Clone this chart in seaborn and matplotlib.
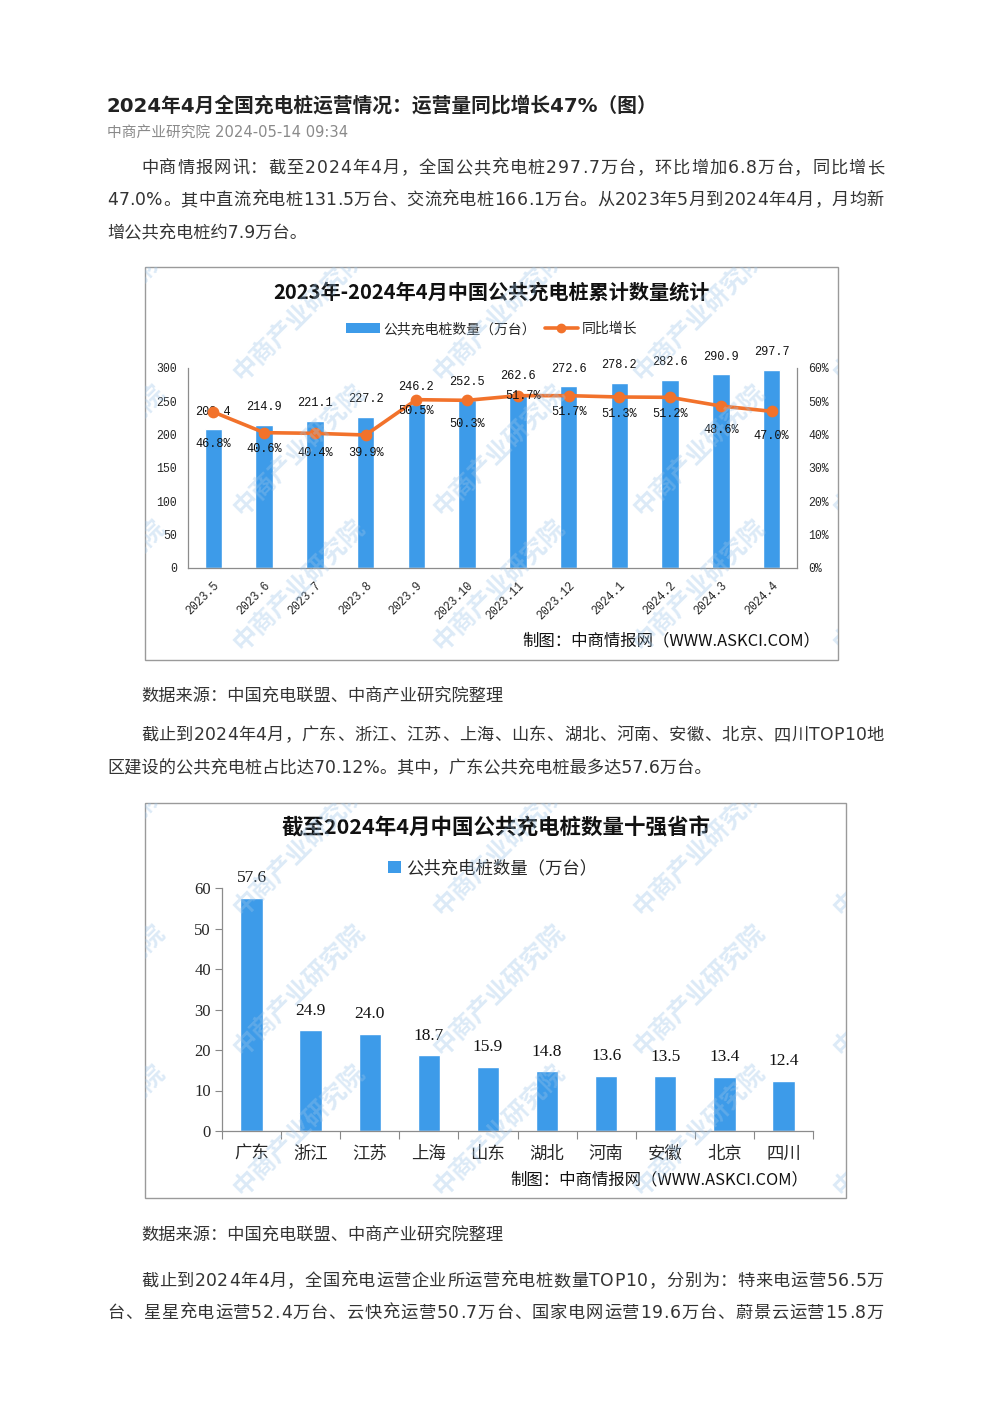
import matplotlib
matplotlib.use('Agg')
import matplotlib.pyplot as plt
import seaborn as sns
import numpy as np
from matplotlib.patches import Rectangle, Patch
from matplotlib.lines import Line2D
from matplotlib.transforms import Bbox, TransformedBbox

# ---------------- data ----------------
months = ['2023.5', '2023.6', '2023.7', '2023.8', '2023.9', '2023.10', '2023.11',
          '2023.12', '2024.1', '2024.2', '2024.3', '2024.4']
pile_count = [208.4, 214.9, 221.1, 227.2, 246.2, 252.5, 262.6, 272.6, 278.2, 282.6, 290.9, 297.7]
yoy_growth = [46.8, 40.6, 40.4, 39.9, 50.5, 50.3, 51.7, 51.7, 51.3, 51.2, 48.6, 47.0]

provinces = ['广东', '浙江', '江苏', '上海', '山东', '湖北', '河南', '安徽', '北京', '四川']
province_count = [57.6, 24.9, 24.0, 18.7, 15.9, 14.8, 13.6, 13.5, 13.4, 12.4]

# label offsets (style only, in pixels below the point)
pct_label_drop = [32, 16, 20, 18, 11, 24, 0, 16, 17, 17, 24, 25]

article_title = '2024年4月全国充电桩运营情况：运营量同比增长47%（图）'
article_meta = '中商产业研究院 2024-05-14 09:34'
para1 = ['中商情报网讯：截至2024年4月，全国公共充电桩297.7万台，环比增加6.8万台，同比增长',
         '47.0%。其中直流充电桩131.5万台、交流充电桩166.1万台。从2023年5月到2024年4月，月均新',
         '增公共充电桩约7.9万台。']
source_note = '数据来源：中国充电联盟、中商产业研究院整理'
para2 = ['截止到2024年4月，广东、浙江、江苏、上海、山东、湖北、河南、安徽、北京、四川TOP10地',
         '区建设的公共充电桩占比达70.12%。其中，广东公共充电桩最多达57.6万台。']
para3 = ['截止到2024年4月，全国充电运营企业所运营充电桩数量TOP10，分别为：特来电运营56.5万',
         '台、星星充电运营52.4万台、云快充运营50.7万台、国家电网运营19.6万台、蔚景云运营15.8万']
chart1_title = '2023年-2024年4月中国公共充电桩累计数量统计'
chart2_title = '截至2024年4月中国公共充电桩数量十强省市'
bar_legend = '公共充电桩数量（万台）'
line_legend = '同比增长'
credit = '制图：中商情报网（WWW.ASKCI.COM）'
watermark = '中商产业研究院'

# ---------------- style ----------------
sns.set_theme(style='white')
plt.rcParams['font.family'] = ['Noto Sans CJK SC', 'DejaVu Sans']
plt.rcParams['axes.unicode_minus'] = False

BLUE = '#3d9be9'
ORANGE = '#f2722b'
TXT = '#333333'
MONO = ['Liberation Mono', 'DejaVu Sans Mono']
SERIF = ['Liberation Serif', 'Noto Sans CJK SC']
PAGE = ['DejaVu Sans', 'Noto Sans CJK SC']

W, H = 992, 1403
fig = plt.figure(figsize=(W / 100, H / 100), dpi=100)
fig.patch.set_facecolor('white')


def fx(x):
    return x / W


def fy(y):
    return 1 - y / H


def txt(x, y, s, **kw):
    kw.setdefault('va', 'center')
    kw.setdefault('color', TXT)
    return fig.text(fx(x), fy(y), s, **kw)


def justify(x0, x1, y, s, size, **kw):
    """draw a line of text spread evenly between x0 and x1"""
    r = fig.canvas.get_renderer()
    widths = []
    for ch in s:
        t = fig.text(0, 0, ch, fontsize=size, **kw)
        bb = t.get_window_extent(renderer=r)
        widths.append(bb.width)
        t.remove()
    total = sum(widths)
    extra = (x1 - x0 - total) / max(len(s) - 1, 1)
    if extra < 0:
        extra = 0
    x = x0
    for ch, w in zip(s, widths):
        txt(x, y, ch, fontsize=size, ha='left', **kw)
        x += w + extra


# ---------------- article text ----------------
txt(107, 105, article_title, fontsize=14.2, fontweight='bold', ha='left', color='#222222',
    fontfamily=PAGE)
txt(107, 133, article_meta, fontsize=10.6, ha='left', color='#8a8a8a', fontfamily=PAGE)
BODY = 12.4
justify(141, 884, 168, para1[0], BODY, fontfamily=PAGE)
justify(107, 884, 200, para1[1], BODY, fontfamily=PAGE)
txt(107, 233, para1[2], fontsize=BODY, ha='left', fontfamily=PAGE)
txt(141, 697, source_note, fontsize=BODY, ha='left', fontfamily=PAGE)
justify(141, 884, 735, para2[0], BODY, fontfamily=PAGE)
txt(107, 768, para2[1], fontsize=BODY, ha='left', fontfamily=PAGE)
txt(141, 1236, source_note, fontsize=BODY, ha='left', fontfamily=PAGE)
justify(141, 884, 1281, para3[0], BODY, fontfamily=PAGE)
justify(107, 884, 1313, para3[1], BODY, fontfamily=PAGE)

# ---------------- chart frames ----------------
box1 = (145, 267, 838, 660)
box2 = (145, 803, 846, 1198)
for (l, t, r, b) in (box1, box2):
    fig.add_artist(Rectangle((fx(l), fy(b)), (r - l) / W, (b - t) / H,
                             transform=fig.transFigure, fill=False,
                             edgecolor='#9a9a9a', lw=1.0))


def add_watermarks(box, xs, ys):
    l, t, r, b = box
    clip = TransformedBbox(Bbox.from_extents(fx(l), fy(b), fx(r), fy(t)), fig.transFigure)
    for yc in ys:
        for xc in xs:
            tt = fig.text(fx(xc), fy(yc), watermark, fontsize=18, rotation=45,
                          ha='center', va='center', color='#9cc4e8', alpha=0.35,
                          fontweight='bold', zorder=10)
            tt.set_clip_box(clip)
            tt.set_clip_on(True)


add_watermarks(box1, [100, 300, 500, 700, 900], [315, 450, 585])
add_watermarks(box2, [100, 300, 500, 700, 900], [850, 990, 1130])

# ---------------- chart 1 ----------------
txt(491, 292, chart1_title, fontsize=14.5, fontweight='bold', ha='center', color='#111111')

ax1 = fig.add_axes([fx(188), fy(568), (797 - 188) / W, 200 / H])
sns.barplot(x=months, y=pile_count, color=BLUE, saturation=1, width=0.34, ax=ax1, zorder=2)
ax1.set_ylim(0, 300)
ax1.set_xlim(-0.5, len(months) - 0.5)
ax1.set_yticks(np.arange(0, 301, 50))
ax1.set_yticklabels([str(v) for v in range(0, 301, 50)], fontfamily=MONO, fontsize=8.3)
ax1.set_xticks(range(len(months)))
ax1.set_xticklabels(months, rotation=45, ha='right', va='top', rotation_mode='anchor',
                    fontfamily=MONO, fontsize=8.3)
ax1.set_xticks(np.arange(-0.5, len(months), 1), minor=True)
ax1.tick_params(axis='x', which='major', length=0, pad=8)
ax1.tick_params(axis='x', which='minor', length=4, direction='in', color='#888888', width=0.8)
ax1.tick_params(axis='y', length=0, pad=8)
ax1.set_xlabel('')
ax1.set_ylabel('')
ax1.patch.set_alpha(0)
for s in ('left', 'right', 'bottom'):
    ax1.spines[s].set_color('#8c8c8c')
    ax1.spines[s].set_linewidth(0.9)
ax1.spines['top'].set_visible(False)
ax1.grid(False)

for i, v in enumerate(pile_count):
    ax1.annotate(f'{v}', (i, v), xytext=(0, 12.5), textcoords='offset points',
                 ha='center', va='center', fontsize=8.6, fontfamily=MONO, color='#111111')

ax2 = ax1.twinx()
sns.pointplot(x=months, y=yoy_growth, color=ORANGE, markers='o', errorbar=None,
              ax=ax2, markersize=6.5, linewidth=2.6)
ax2.set_ylim(0, 60)
ax2.set_xlim(-0.5, len(months) - 0.5)
ax2.set_yticks(np.arange(0, 61, 10))
ax2.set_yticklabels([f'{v}%' for v in range(0, 61, 10)], fontfamily=MONO, fontsize=8.3)
ax2.tick_params(axis='y', length=0, pad=8)
ax2.set_ylabel('')
ax2.set_xlabel('')
for s in ('left', 'right', 'bottom', 'top'):
    ax2.spines[s].set_visible(False)
ax2.grid(False)
for i, v in enumerate(yoy_growth):
    dx = 4 if pct_label_drop[i] == 0 else 0
    ax2.annotate(f'{v}%', (i, v), xytext=(dx, -pct_label_drop[i] * 0.72),
                 textcoords='offset points', ha='center', va='center',
                 fontsize=8.6, fontfamily=MONO, color='#111111')

h_bar = Patch(facecolor=BLUE, edgecolor='none')
h_line = Line2D([], [], color=ORANGE, lw=2.6, marker='o', markersize=6)
fig.legend([h_bar, h_line], [bar_legend, line_legend], loc='center',
           bbox_to_anchor=(fx(492), fy(329)), ncol=2, frameon=False, fontsize=10,
           handlelength=2.4, handleheight=0.65, handletextpad=0.3, columnspacing=0.6)

txt(820, 641, credit, fontsize=11.8, ha='right', color='#111111')

# ---------------- chart 2 ----------------
txt(496, 828, chart2_title, fontsize=15.5, fontweight='bold', ha='center', color='#111111')

ax3 = fig.add_axes([fx(222), fy(1131), (813 - 222) / W, (1131 - 888) / H])
sns.barplot(x=provinces, y=province_count, color=BLUE, saturation=1, width=0.38, ax=ax3, zorder=2)
ax3.set_ylim(0, 60)
ax3.set_xlim(-0.5, len(provinces) - 0.5)
ax3.set_yticks(np.arange(0, 61, 10))
ax3.set_yticklabels([str(v) for v in range(0, 61, 10)], fontfamily=SERIF, fontsize=12)
ax3.set_xticks(range(len(provinces)))
ax3.set_xticklabels(provinces, fontsize=12.5)
ax3.set_xticks(np.arange(-0.5, len(provinces), 1), minor=True)
ax3.tick_params(axis='x', which='major', length=0, pad=10)
ax3.tick_params(axis='x', which='minor', length=6, direction='out', color='#888888', width=0.8,
                bottom=True)
ax3.tick_params(axis='y', length=5, direction='out', color='#888888', width=0.8, pad=3, left=True)
ax3.set_xlabel('')
ax3.set_ylabel('')
ax3.patch.set_alpha(0)
for s in ('top', 'right'):
    ax3.spines[s].set_visible(False)
for s in ('left', 'bottom'):
    ax3.spines[s].set_color('#8c8c8c')
    ax3.spines[s].set_linewidth(0.9)
ax3.grid(False)
for i, v in enumerate(province_count):
    ax3.annotate(f'{v}', (i, v), xytext=(0, 14), textcoords='offset points',
                 ha='center', va='center', fontsize=12.5, fontfamily=SERIF, color='#111111')

fig.legend([Patch(facecolor=BLUE, edgecolor='none')], [bar_legend], loc='center',
           bbox_to_anchor=(fx(493), fy(868)), frameon=False, fontsize=12.5,
           handlelength=0.75, handleheight=0.75, handletextpad=0.3)

txt(808, 1180, credit, fontsize=11.8, ha='right', color='#111111')

fig.savefig('out.png', dpi=100, facecolor='white')
